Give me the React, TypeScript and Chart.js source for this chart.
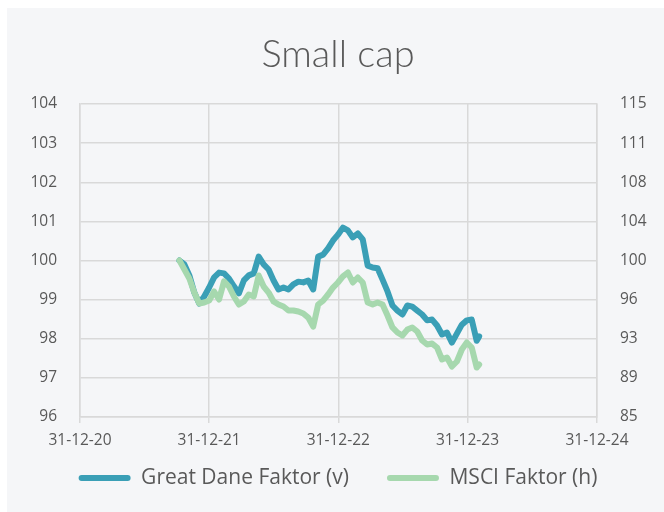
import React, { useEffect, useRef } from "react";
import { Chart, registerables } from "chart.js";

Chart.register(...registerables);

const dates = [
  "2021-10-08", "2021-10-22", "2021-11-05", "2021-11-19", "2021-12-03", "2021-12-17",
  "2021-12-31", "2022-01-14", "2022-01-28", "2022-02-11", "2022-02-25", "2022-03-11",
  "2022-03-25", "2022-04-08", "2022-04-22", "2022-05-06", "2022-05-20", "2022-06-03",
  "2022-06-17", "2022-07-01", "2022-07-15", "2022-07-29", "2022-08-12", "2022-08-26",
  "2022-09-09", "2022-09-23", "2022-10-07", "2022-10-21", "2022-11-04", "2022-11-18",
  "2022-12-02", "2022-12-16", "2022-12-30", "2023-01-13", "2023-01-27", "2023-02-10",
  "2023-02-24", "2023-03-10", "2023-03-24", "2023-04-07", "2023-04-21", "2023-05-05",
  "2023-05-19", "2023-06-02", "2023-06-16", "2023-06-30", "2023-07-14", "2023-07-28",
  "2023-08-11", "2023-08-25", "2023-09-08", "2023-09-22", "2023-10-06", "2023-10-20",
  "2023-11-03", "2023-11-17", "2023-12-01", "2023-12-15", "2023-12-29", "2024-01-12",
  "2024-01-26", "2024-02-02",
];

const greatDane = [
  100.0, 99.9, 99.62, 99.18, 98.9, 99.08, 99.31, 99.57, 99.69, 99.67,
  99.54, 99.34, 99.16, 99.49, 99.62, 99.67, 100.1, 99.9, 99.77, 99.49,
  99.26, 99.31, 99.26, 99.39, 99.46, 99.44, 99.49, 99.26, 100.1, 100.15,
  100.31, 100.51, 100.66, 100.84, 100.77, 100.59, 100.69, 100.54, 99.87, 99.82,
  99.8, 99.51, 99.21, 98.85, 98.72, 98.62, 98.85, 98.82, 98.72, 98.62,
  98.47, 98.49, 98.34, 98.11, 98.16, 97.9, 98.13, 98.36, 98.47, 98.49,
  97.95, 98.06,
];

const msci = [
  100.0, 99.14, 98.27, 96.93, 95.88, 95.97, 96.16, 97.03, 96.26, 98.0,
  97.51, 96.55, 95.78, 96.07, 96.74, 96.55, 98.56, 97.51, 96.93, 96.07,
  95.78, 95.59, 95.21, 95.21, 95.11, 94.92, 94.53, 93.67, 95.78, 96.16,
  96.74, 97.41, 97.89, 98.47, 98.85, 97.89, 98.37, 97.89, 95.97, 95.78,
  95.97, 95.78, 94.73, 93.58, 93.1, 92.81, 93.38, 93.58, 93.19, 92.33,
  91.95, 92.04, 91.66, 90.51, 90.7, 89.84, 90.32, 91.47, 92.14, 91.66,
  89.74, 90.03,
];

const xTickDates = ["2020-12-31", "2021-12-31", "2022-12-31", "2023-12-31", "2024-12-31"];
const xTickLabels = ["31-12-20", "31-12-21", "31-12-22", "31-12-23", "31-12-24"];

const seriesNames = ["Great Dane Faktor (v)", "MSCI Faktor (h)"];
const title = "Small cap";

const leftMin = 96;
const leftMax = 104;
const leftStep = 1;
const rightMin = 85;
const rightMax = 115;
const rightStep = 3.75;

const BASE = Date.parse(xTickDates[0]);
const dayOf = (s: string) => (Date.parse(s) - BASE) / 86400000;

const GRID = "#D9D9D9";
const TEXT = "#595959";

export default function App() {
  const ref = useRef<HTMLCanvasElement | null>(null);

  useEffect(() => {
    if (!ref.current) return;
    const chart = new Chart(ref.current, {
      type: "line",
      data: {
        datasets: [
          {
            label: seriesNames[0],
            data: dates.map((d, i) => ({ x: dayOf(d), y: greatDane[i] })),
            yAxisID: "yL",
            borderColor: "#3A9FB6",
            backgroundColor: "#3A9FB6",
            borderWidth: 6,
            pointRadius: 0,
            tension: 0,
            borderJoinStyle: "round",
            borderCapStyle: "round",
            order: 1,
          },
          {
            label: seriesNames[1],
            data: dates.map((d, i) => ({ x: dayOf(d), y: msci[i] })),
            yAxisID: "yR",
            borderColor: "#A6D8AE",
            backgroundColor: "#A6D8AE",
            borderWidth: 6,
            pointRadius: 0,
            tension: 0,
            borderJoinStyle: "round",
            borderCapStyle: "round",
            order: 0,
          },
        ],
      },
      options: {
        animation: false,
        responsive: false,
        layout: { padding: { left: 5, right: 0, top: 0, bottom: 13.5 } },
        plugins: {
          tooltip: { enabled: false },
          title: {
            display: true,
            text: title,
            color: TEXT,
            font: { family: "Lato", size: 38, weight: "300" },
            padding: { top: 24, bottom: 26.4 },
          },
          legend: {
            position: "bottom",
            labels: {
              color: TEXT,
              font: { family: "'Open Sans'", size: 21 },
              boxWidth: 52,
              boxHeight: 6,
              padding: 38,
              useBorderRadius: true,
              borderRadius: 3,
              generateLabels: (c: any) =>
                c.data.datasets.map((ds: any, i: number) => ({
                  text: ds.label,
                  fillStyle: ds.borderColor,
                  strokeStyle: ds.borderColor,
                  lineWidth: 0,
                  datasetIndex: i,
                  fontColor: TEXT,
                  borderRadius: 3,
                })),
            },
          },
        },
        scales: {
          x: {
            type: "linear",
            min: dayOf(xTickDates[0]),
            max: dayOf(xTickDates[xTickDates.length - 1]),
            afterBuildTicks: (s: any) => {
              s.ticks = xTickDates.map((d) => ({ value: dayOf(d) }));
            },
            afterFit: (s: any) => {
              s.height = 12.5;
            },
            ticks: {
              autoSkip: false,
              maxRotation: 0,
              mirror: true,
              padding: -33.2,
              color: TEXT,
              font: { family: "'Open Sans'", size: 15.5 },
              callback: (_v: any, i: number) => xTickLabels[i],
            },
            grid: { color: GRID, lineWidth: 1.5, tickLength: 6, drawTicks: true },
            border: { color: GRID, width: 1.5 },
          },
          yL: {
            type: "linear",
            position: "left",
            min: leftMin,
            max: leftMax,
            afterFit: (s: any) => {
              s.width = 68;
            },
            ticks: {
              stepSize: leftStep,
              padding: 23,
              color: TEXT,
              font: { family: "'Open Sans'", size: 15.5 },
            },
            grid: { color: GRID, lineWidth: 1.5, drawTicks: false },
            border: { color: GRID, width: 1.5 },
          },
          yR: {
            type: "linear",
            position: "right",
            min: rightMin,
            max: rightMax,
            afterFit: (s: any) => {
              s.width = 67;
            },
            ticks: {
              stepSize: rightStep,
              padding: 23,
              color: TEXT,
              font: { family: "'Open Sans'", size: 15.5 },
              callback: (v: any) => String(Math.round(Number(v))),
            },
            grid: { display: false, drawTicks: false },
            border: { color: GRID, width: 1.5 },
          },
        },
      },
    });
    return () => chart.destroy();
  }, []);

  return (
    <div
      style={{
        position: "absolute",
        left: 7,
        top: 8,
        width: 657,
        height: 504,
        background: "#F5F6F8",
      }}
    >
      <canvas ref={ref} width={657} height={504} style={{ display: "block" }} />
    </div>
  );
}
